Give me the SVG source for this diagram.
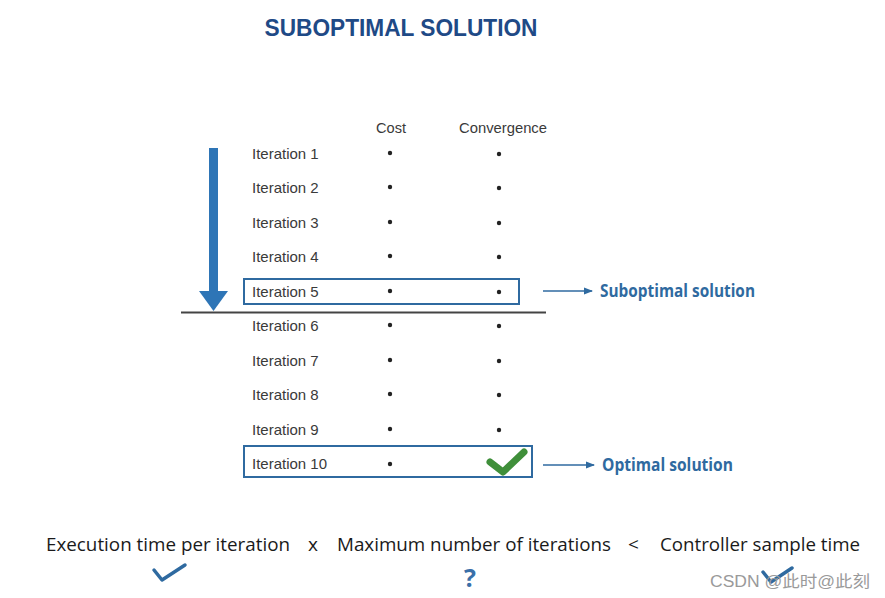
<svg xmlns="http://www.w3.org/2000/svg" width="885" height="598" viewBox="0 0 885 598">
<style>
.it{font-family:"Liberation Sans",Arial,sans-serif;font-size:15px;fill:#3a3a3a}
.hd{font-family:"Liberation Sans",Arial,sans-serif;font-size:15px;fill:#3a3a3a;text-anchor:middle}
.dot{fill:#222}
.box{fill:none;stroke:#2f6aa0;stroke-width:2}
.lbl{font-family:"Open Sans","Liberation Sans",sans-serif;font-size:17px;font-weight:bold;fill:#2f6aa0}
.eq{font-family:"Open Sans","Liberation Sans",sans-serif;font-size:19px;fill:#1a1a1a}
.conn{stroke:#2f6aa0;stroke-width:1.5;fill:none}
</style>
<defs>
<marker id="ah" markerWidth="9" markerHeight="8" refX="8" refY="4" orient="auto" markerUnits="userSpaceOnUse">
<path d="M0,0.5 L9,4 L0,7.5 Z" fill="#2f6aa0"/>
</marker>
</defs>
<rect width="885" height="598" fill="#ffffff"/>
<text x="401" y="36" text-anchor="middle" font-family="Liberation Sans,Arial,sans-serif" font-size="24" font-weight="bold" fill="#1f4a86" textLength="273" lengthAdjust="spacingAndGlyphs">SUBOPTIMAL SOLUTION</text>

<g id="headers">
<text class="hd" x="391" y="133" textLength="30" lengthAdjust="spacingAndGlyphs">Cost</text>
<text class="hd" x="503" y="133" textLength="88" lengthAdjust="spacingAndGlyphs">Convergence</text>
</g>

<g id="progress-arrow">
<rect x="209" y="148" width="9" height="145" fill="#2e75b6"/>
<path d="M199,291 L228,291 L213.5,311 Z" fill="#2e75b6"/>
</g>

<g id="rows">
<text class="it" x="252" y="159">Iteration 1</text>
<text class="it" x="252" y="193">Iteration 2</text>
<text class="it" x="252" y="228">Iteration 3</text>
<text class="it" x="252" y="262">Iteration 4</text>
<text class="it" x="252" y="297">Iteration 5</text>
<text class="it" x="252" y="331">Iteration 6</text>
<text class="it" x="252" y="366">Iteration 7</text>
<text class="it" x="252" y="400">Iteration 8</text>
<text class="it" x="252" y="435">Iteration 9</text>
<text class="it" x="252" y="469">Iteration 10</text>
<g class="dot">
<circle cx="390" cy="153" r="2.2"/><circle cx="499" cy="154" r="2.2"/>
<circle cx="390" cy="187" r="2.2"/><circle cx="499" cy="188" r="2.2"/>
<circle cx="390" cy="222" r="2.2"/><circle cx="499" cy="223" r="2.2"/>
<circle cx="390" cy="256" r="2.2"/><circle cx="499" cy="257" r="2.2"/>
<circle cx="390" cy="291" r="2.2"/><circle cx="499" cy="292" r="2.2"/>
<circle cx="390" cy="325" r="2.2"/><circle cx="499" cy="326" r="2.2"/>
<circle cx="390" cy="360" r="2.2"/><circle cx="499" cy="361" r="2.2"/>
<circle cx="390" cy="394" r="2.2"/><circle cx="499" cy="395" r="2.2"/>
<circle cx="390" cy="429" r="2.2"/><circle cx="499" cy="430" r="2.2"/>
<circle cx="390" cy="464" r="2.2"/>
</g>
</g>

<line x1="181" y1="312.5" x2="546" y2="312.5" stroke="#444" stroke-width="2"/>

<g id="suboptimal-box">
<rect class="box" x="244" y="279" width="275" height="25"/>
</g>
<g id="optimal-box">
<rect class="box" x="244" y="446" width="288" height="31"/>
<path d="M490,462 L503,472 L524,452" fill="none" stroke="#3f8f3a" stroke-width="7" stroke-linecap="round" stroke-linejoin="round"/>
</g>

<g id="connectors">
<line class="conn" x1="543" y1="291" x2="592" y2="291" marker-end="url(#ah)"/>
<line class="conn" x1="543" y1="465" x2="594" y2="465" marker-end="url(#ah)"/>
</g>

<g id="suboptimal-label">
<text class="lbl" x="600" y="297" textLength="155" lengthAdjust="spacingAndGlyphs">Suboptimal solution</text>
</g>
<g id="optimal-label">
<text class="lbl" x="602" y="471" textLength="131" lengthAdjust="spacingAndGlyphs">Optimal solution</text>
</g>

<g id="equation">
<text class="eq" x="46" y="551" textLength="244" lengthAdjust="spacingAndGlyphs">Execution time per iteration</text>
<text class="eq" x="308" y="551">x</text>
<text class="eq" x="337" y="551" textLength="274" lengthAdjust="spacingAndGlyphs">Maximum number of iterations</text>
<text class="eq" x="628" y="551">&lt;</text>
<text class="eq" x="660" y="551" textLength="200" lengthAdjust="spacingAndGlyphs">Controller sample time</text>
<path d="M154,570 L162,580 L185,565" fill="none" stroke="#2f6aa0" stroke-width="3.5" stroke-linecap="round" stroke-linejoin="round"/>
<text x="470" y="587" text-anchor="middle" font-family="Open Sans,Liberation Sans,sans-serif" font-size="25" font-weight="bold" fill="#3a6fa8">?</text>
<path d="M763,572 L771,582 L792,568" fill="none" stroke="#2f6aa0" stroke-width="3.5" stroke-linecap="round" stroke-linejoin="round"/>
</g>

<text x="710" y="587" font-family="Liberation Sans,'Noto Sans CJK SC',sans-serif" font-size="16" fill="#9a9a9a" textLength="160" lengthAdjust="spacingAndGlyphs">CSDN @此时@此刻</text>
</svg>
